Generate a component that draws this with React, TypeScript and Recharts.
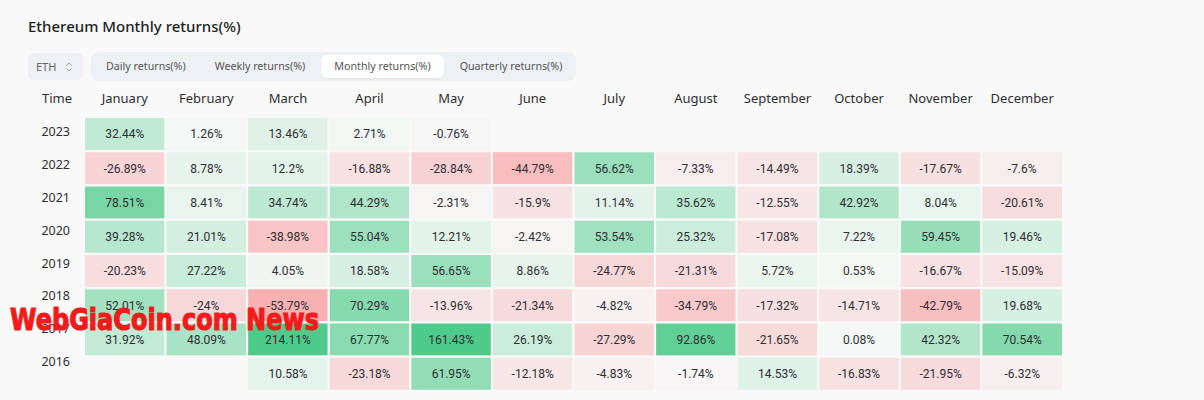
import React from "react";
import { BarChart, Bar, XAxis, YAxis, Cell, LabelList } from "recharts";

const months = [
  "January", "February", "March", "April", "May", "June",
  "July", "August", "September", "October", "November", "December",
];
const years = ["2023", "2022", "2021", "2020", "2019", "2018", "2017", "2016"];
const tabs = ["Daily returns(%)", "Weekly returns(%)", "Monthly returns(%)", "Quarterly returns(%)"];

// monthly returns in %, null where there is no data
const returns2023 = [32.44, 1.26, 13.46, 2.71, -0.76, null, null, null, null, null, null, null];
const returns2022 = [-26.89, 8.78, 12.2, -16.88, -28.84, -44.79, 56.62, -7.33, -14.49, 18.39, -17.67, -7.6];
const returns2021 = [78.51, 8.41, 34.74, 44.29, -2.31, -15.9, 11.14, 35.62, -12.55, 42.92, 8.04, -20.61];
const returns2020 = [39.28, 21.01, -38.98, 55.04, 12.21, -2.42, 53.54, 25.32, -17.08, 7.22, 59.45, 19.46];
const returns2019 = [-20.23, 27.22, 4.05, 18.58, 56.65, 8.86, -24.77, -21.31, 5.72, 0.53, -16.67, -15.09];
const returns2018 = [52.01, -24, -53.79, 70.29, -13.96, -21.34, -4.82, -34.79, -17.32, -14.71, -42.79, 19.68];
const returns2017 = [31.92, 48.09, 214.11, 67.77, 161.43, 26.19, -27.29, 92.86, -21.65, 0.08, 42.32, 70.54];
const returns2016 = [null, null, 10.58, -23.18, 61.95, -12.18, -4.83, -1.74, 14.53, -16.83, -21.95, -6.32];

const returnsByYear = [
  returns2023, returns2022, returns2021, returns2020,
  returns2019, returns2018, returns2017, returns2016,
];

const BG = "#f9f9f9";
const TEXT = "#2e2e33";

const mix = (a: number[], b: number[], t: number) =>
  `rgb(${a.map((c, i) => Math.round(c + (b[i] - c) * t)).join(",")})`;

const heatColor = (v: number | null) => {
  if (v == null) return "transparent";
  if (v >= 0) return mix([245, 248, 246], [78, 203, 138], Math.min(v / 105, 1));
  return mix([247, 247, 247], [249, 117, 119], Math.min(-v / 100, 1));
};

const rows = years.map((year, i) => {
  const row: Record<string, any> = { year };
  months.forEach((_, m) => {
    row[`s${m}`] = 1;
    row[`r${m}`] = returnsByYear[i][m];
  });
  return row;
});

const monthTicks = months.map((_, i) => i + 0.5);

const YearTick = (props: any) => {
  const { x, y, payload, index } = props;
  return (
    <text
      x={x}
      y={y - 2.3 - index * 1.43}
      textAnchor="end"
      dominantBaseline="central"
      fill={TEXT}
      fontSize={12.5}
      fontFamily="Noto Sans"
    >
      {payload.value}
    </text>
  );
};

const Chevrons = () => (
  <svg width="8" height="12" viewBox="0 0 8 12" style={{ position: "absolute", left: 37, top: 8 }}>
    <path d="M1.5 4.5 L4 2 L6.5 4.5" fill="none" stroke="#999" strokeWidth="1" />
    <path d="M1.5 7.5 L4 10 L6.5 7.5" fill="none" stroke="#999" strokeWidth="1" />
  </svg>
);

export default function App() {
  return (
    <div
      style={{
        position: "fixed",
        left: 0,
        top: 0,
        width: 1204,
        height: 400,
        background: BG,
        fontFamily: "Noto Sans",
        overflow: "hidden",
      }}
    >
      <div style={{ position: "absolute", left: 28, top: 15, fontSize: 15, fontWeight: 500, color: "#1f1f24", lineHeight: "22px" }}>
        Ethereum Monthly returns(%)
      </div>

      <div
        style={{
          position: "absolute", left: 28, top: 53, width: 55, height: 27,
          background: "#eef0f3", borderRadius: 6, fontSize: 11, color: "#666",
          lineHeight: "27px", boxSizing: "border-box", paddingLeft: 8,
        }}
      >
        ETH
        <Chevrons />
      </div>

      <div
        style={{
          position: "absolute", left: 91, top: 52, width: 485, height: 29,
          background: "#eef1f4", borderRadius: 8, display: "flex",
          alignItems: "center", boxSizing: "border-box", paddingLeft: 2, gap: 3,
        }}
      >
        {tabs.map((t, i) => (
          <div
            key={t}
            style={{
              height: 23, lineHeight: "23px", padding: "0 13px", fontSize: 10.7,
              color: "#555", borderRadius: 6, whiteSpace: "nowrap", flexShrink: 0,
              background: i === 2 ? "#ffffff" : "transparent",
              boxShadow: i === 2 ? "0 1px 2px rgba(0,0,0,0.06)" : "none",
            }}
          >
            {t}
          </div>
        ))}
      </div>

      <div style={{ position: "absolute", left: 42, top: 89, fontSize: 13, color: TEXT, lineHeight: "18px" }}>
        Time
      </div>

      <div style={{ position: "absolute", left: 0, top: 0 }}>
        <BarChart
          layout="vertical"
          width={1204}
          height={400}
          data={rows}
          margin={{ top: 87, right: 141, bottom: 9, left: 0 }}
          barCategoryGap={0}
        >
          <XAxis
            type="number"
            orientation="top"
            domain={[0, 12]}
            ticks={monthTicks}
            interval={0}
            tickFormatter={(v: number) => months[Math.floor(v)]}
            axisLine={false}
            tickLine={false}
            tickMargin={8}
            height={30}
            tick={{ fill: TEXT, fontSize: 13, fontFamily: "Noto Sans" }}
          />
          <YAxis
            type="category"
            dataKey="year"
            width={84}
            axisLine={false}
            tickLine={false}
            tickMargin={8}
            tick={<YearTick />}
          />
          {months.map((_, m) => (
            <Bar
              key={m}
              dataKey={`s${m}`}
              stackId="grid"
              isAnimationActive={false}
              stroke={BG}
              strokeWidth={2}
            >
              {rows.map((row, i) => (
                <Cell key={i} fill={heatColor(row[`r${m}`])} />
              ))}
              <LabelList
                dataKey={`r${m}`}
                position="center"
                formatter={(v: any) => (v == null ? "" : `${v}%`)}
                fill={TEXT}
                fontSize={12}
                fontFamily="Roboto"
              />
            </Bar>
          ))}
        </BarChart>
      </div>

      <svg
        width={1204}
        height={400}
        style={{ position: "absolute", left: 0, top: 0, pointerEvents: "none" }}
      >
        <text
          x={10}
          y={330}
          fill="#f21a1a"
          stroke="#f21a1a"
          strokeWidth={1.2}
          fontSize={30}
          fontWeight="bold"
          fontFamily="DejaVu Sans"
          textLength={309}
          lengthAdjust="spacingAndGlyphs"
        >
          WebGiaCoin.com News
        </text>
      </svg>
    </div>
  );
}
